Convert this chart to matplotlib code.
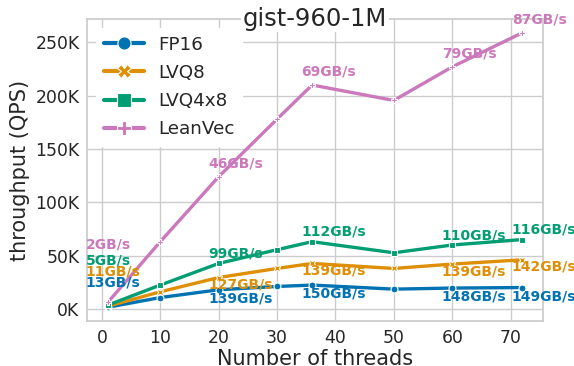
import matplotlib
matplotlib.use("Agg")
import matplotlib.pyplot as plt
import seaborn as sns

threads = [1, 10, 20, 30, 36, 50, 60, 72]
series_names = ["FP16", "LVQ8", "LVQ4x8", "LeanVec"]
fp16_qps = [1.5, 10.6, 17.9, 21.0, 22.3, 18.5, 19.5, 20.0]
lvq8_qps = [2.5, 16.0, 29.4, 37.9, 42.6, 37.9, 42.0, 46.0]
lvq4x8_qps = [3.5, 22.3, 42.6, 55.5, 63.0, 52.6, 59.9, 65.0]
leanvec_qps = [6.0, 63.0, 124.0, 178.0, 210.0, 195.5, 227.0, 259.0]

# bandwidth labels, shown at threads 1, 20, 36, 60, 72
label_idx = [0, 2, 4, 6, 7]
fp16_bw = ["13GB/s", "139GB/s", "150GB/s", "148GB/s", "149GB/s"]
lvq8_bw = ["11GB/s", "127GB/s", "139GB/s", "139GB/s", "142GB/s"]
lvq4x8_bw = ["5GB/s", "99GB/s", "112GB/s", "110GB/s", "116GB/s"]
leanvec_bw = ["2GB/s", "46GB/s", "69GB/s", "79GB/s", "87GB/s"]

sns.set_theme(style="whitegrid", palette="colorblind")
plt.rcParams['font.family'] = ['DejaVu Sans']
colors = sns.color_palette("colorblind")
series_colors = [colors[0], colors[1], colors[2], colors[4]]
markers = ["o", "X", "s", "P"]
all_qps = [fp16_qps, lvq8_qps, lvq4x8_qps, leanvec_qps]
all_bw = [fp16_bw, lvq8_bw, lvq4x8_bw, leanvec_bw]

# label offsets in pixels: (dy for first point, dy for the others)
px = 0.72
first_dy = [25, 35, 45, 58]
other_dy = [-8.5, -7, 10, 13.5]

fig = plt.figure(figsize=(5.74, 3.66), dpi=100)
ax = fig.add_axes([0.1516, 0.123, 0.946 - 0.1516, 0.948 - 0.123])

for name, qps, bw, c, m, fdy, ody in zip(series_names, all_qps, all_bw, series_colors,
                                         markers, first_dy, other_dy):
    ax.plot(threads, qps, color=c, lw=2.4, marker=m, markersize=5,
            markeredgecolor="white", markeredgewidth=0.8, label=name)
    for k, i in enumerate(label_idx):
        if k == 0:
            dx, dy = -22, fdy
        else:
            dx, dy = -10.5, ody
        ax.annotate(bw[k], (threads[i], qps[i]), xytext=(dx * px, dy * px),
                    textcoords="offset points", ha="left", va="center",
                    color=c, fontsize=10, fontweight="bold")

ax.set_xticks([0, 10, 20, 30, 40, 50, 60, 70])
ax.set_yticks([0, 50, 100, 150, 200, 250])
ax.set_yticklabels(["%dK" % v for v in [0, 50, 100, 150, 200, 250]])
ax.tick_params(labelsize=12.4, length=0, pad=5.5)
ax.set_xlabel("Number of threads", fontsize=15, labelpad=2)
ax.set_ylabel("throughput (QPS)", fontsize=15, labelpad=4)

ax.text(0.5, 1.0, "gist-960-1M", transform=ax.transAxes, ha="center", va="center",
        fontsize=17.5, color="#262626",
        bbox=dict(facecolor="white", edgecolor="none", pad=1))

leg = ax.legend(loc="upper left", fontsize=13.2, markerscale=1.9, handlelength=2.2,
                handletextpad=0.8, labelspacing=0.56, borderaxespad=0.5,
                frameon=True, facecolor="white", edgecolor="white", framealpha=1)
for line in leg.get_lines():
    line.set_linewidth(3)

fig.savefig("out.png", dpi=100)
